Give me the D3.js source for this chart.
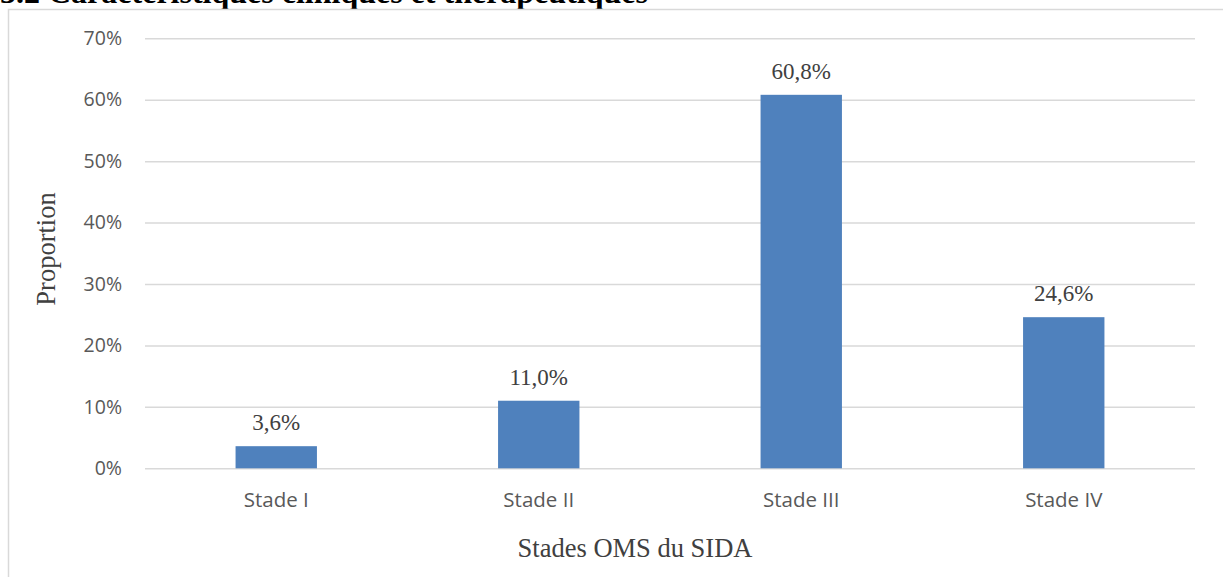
<!DOCTYPE html>
<html>
<head>
<meta charset="utf-8">
<script src="https://cdn.jsdelivr.net/npm/d3@7"></script>
<style>
  html, body { margin: 0; padding: 0; background: #ffffff; overflow: hidden; }
  svg { display: block; }
</style>
</head>
<body>
<svg id="chart" width="1223" height="577"></svg>
<script>
// WHO AIDS stage distribution
const categories = ["Stade I", "Stade II", "Stade III", "Stade IV"];
const values = [3.6, 11.0, 60.8, 24.6];
const dataLabels = ["3,6%", "11,0%", "60,8%", "24,6%"];
const yTicks = [0, 10, 20, 30, 40, 50, 60, 70];

const svg = d3.select("#chart");
const W = 1223, H = 577;

// Section heading above the chart frame (page scrolled so only its lower part shows)
svg.append("text")
  .attr("x", 0).attr("y", 3)
  .attr("font-family", "'Liberation Serif', 'Times New Roman', serif")
  .attr("font-weight", "bold")
  .attr("font-size", 32)
  .attr("fill", "#000")
  .text("3.2 Caractéristiques cliniques et thérapeutiques");

// Chart frame
svg.append("rect")
  .attr("x", 8.5).attr("y", 9.5)
  .attr("width", W + 20).attr("height", H + 20)
  .attr("fill", "none")
  .attr("stroke", "#d9d9d9")
  .attr("stroke-width", 1.5);

const plot = { left: 145, right: 1195, top: 38.3, bottom: 468.3 };

const x = d3.scaleBand()
  .domain(categories)
  .range([plot.left, plot.right])
  .paddingInner(0.69)
  .paddingOuter(0.345);

const y = d3.scaleLinear()
  .domain([0, 70])
  .range([plot.bottom, plot.top]);

// Horizontal gridlines with percentage tick labels
const yAxis = d3.axisLeft(y)
  .tickValues(yTicks)
  .tickSize(-(plot.right - plot.left))
  .tickPadding(23)
  .tickFormat(d => d + "%");

const gy = svg.append("g")
  .attr("transform", `translate(${plot.left},0)`)
  .call(yAxis);
gy.select(".domain").remove();
gy.selectAll(".tick line")
  .attr("stroke", "#d9d9d9")
  .attr("stroke-width", 1.5);
gy.selectAll(".tick text")
  .attr("font-family", "'Open Sans', sans-serif")
  .attr("font-size", 19.5)
  .attr("fill", "#595959");

// Bars
svg.append("g").selectAll("rect")
  .data(values)
  .join("rect")
  .attr("x", (d, i) => x(categories[i]))
  .attr("y", d => y(d))
  .attr("width", x.bandwidth())
  .attr("height", d => y(0) - y(d))
  .attr("fill", "#4f81bd");

// Value labels above bars
svg.append("g").selectAll("text")
  .data(values)
  .join("text")
  .attr("x", (d, i) => x(categories[i]) + x.bandwidth() / 2)
  .attr("y", d => y(d) - 16)
  .attr("text-anchor", "middle")
  .attr("font-family", "'Liberation Serif', 'Times New Roman', serif")
  .attr("font-size", 23)
  .attr("fill", "#404040")
  .text((d, i) => dataLabels[i]);

// Category axis labels
const xAxis = d3.axisBottom(x).tickSize(0).tickPadding(0);
const gx = svg.append("g")
  .attr("transform", `translate(0,${plot.bottom})`)
  .call(xAxis);
gx.select(".domain").remove();
gx.selectAll(".tick text")
  .attr("dy", null)
  .attr("y", 39)
  .attr("font-family", "'Open Sans', sans-serif")
  .attr("font-size", 20.5)
  .attr("fill", "#595959");

// Axis titles
svg.append("text")
  .attr("transform", "translate(55,249) rotate(-90)")
  .attr("text-anchor", "middle")
  .attr("font-family", "'Liberation Serif', 'Times New Roman', serif")
  .attr("font-size", 26.5)
  .attr("fill", "#404040")
  .text("Proportion");

svg.append("text")
  .attr("x", 635).attr("y", 557)
  .attr("text-anchor", "middle")
  .attr("font-family", "'Liberation Serif', 'Times New Roman', serif")
  .attr("font-size", 26.5)
  .attr("fill", "#404040")
  .text("Stades OMS du SIDA");
</script>
</body>
</html>
